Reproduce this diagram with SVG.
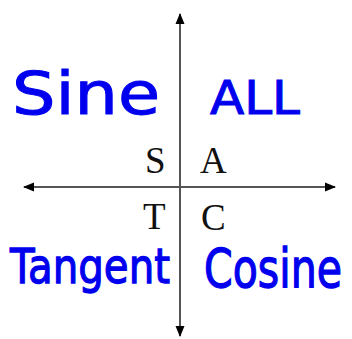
<svg xmlns="http://www.w3.org/2000/svg" width="352" height="339" viewBox="0 0 352 339">
<style>
.axis{stroke:#555;stroke-width:2;fill:none}
.lbl{font-family:"Liberation Serif",serif;font-size:37px;fill:#111}
.hw{font-family:"DejaVu Sans","Liberation Sans",sans-serif;fill:#0000ee;stroke:#0000ee;stroke-width:1}
</style>
<defs>
<marker id="ah" markerWidth="12" markerHeight="12" refX="10" refY="6" orient="auto" markerUnits="userSpaceOnUse">
<path d="M0,1.5 L11,6 L0,10.5 Z" fill="#000"/>
</marker>
</defs>
<rect width="352" height="339" fill="#fff"/>
<g id="connectors">
<line class="axis" x1="180" y1="188" x2="180" y2="14" marker-end="url(#ah)"/>
<line class="axis" x1="180" y1="188" x2="180" y2="336" marker-end="url(#ah)"/>
<line class="axis" x1="180" y1="187" x2="24" y2="187" marker-end="url(#ah)"/>
<line class="axis" x1="180" y1="187" x2="335" y2="187" marker-end="url(#ah)"/>
</g>
<g id="quadrant-S"><text class="lbl" x="145" y="173">S</text></g>
<g id="quadrant-A"><text class="lbl" x="200" y="173">A</text></g>
<g id="quadrant-T"><text class="lbl" x="143" y="229">T</text></g>
<g id="quadrant-C"><text class="lbl" x="201" y="230">C</text></g>
<g id="label-sine"><text class="hw" x="12" y="114" font-size="58" textLength="148" lengthAdjust="spacingAndGlyphs">Sine</text></g>
<g id="label-all"><text class="hw" x="210" y="114" font-size="46" textLength="90" lengthAdjust="spacingAndGlyphs">ALL</text></g>
<g id="label-tangent"><text class="hw" transform="translate(10,283) scale(1,1.25)" x="0" y="0" font-size="39" textLength="160" lengthAdjust="spacingAndGlyphs">Tangent</text></g>
<g id="label-cosine"><text class="hw" transform="translate(204,287) scale(1,1.3)" x="0" y="0" font-size="41" textLength="138" lengthAdjust="spacingAndGlyphs">Cosine</text></g>
</svg>
